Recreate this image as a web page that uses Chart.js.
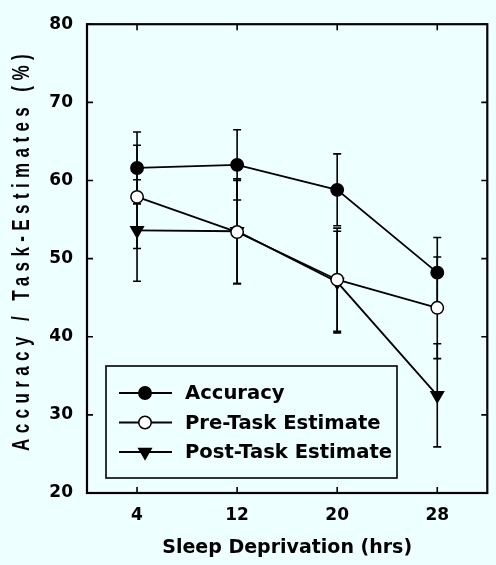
<!DOCTYPE html>
<html>
<head>
<meta charset="utf-8">
<script src="https://cdn.jsdelivr.net/npm/chart.js@4.4.0/dist/chart.umd.min.js"></script>
<style>
  html, body { margin: 0; padding: 0; background: #eeffff; }
  #wrap { width: 496px; height: 565px; }
</style>
</head>
<body>
<div id="wrap"><canvas id="chart" width="496" height="565"></canvas></div>
<script>
// hours of sleep deprivation
const hours = [4, 12, 20, 28];
const xTicks = [4, 12, 20, 28];

// means and error bar half-lengths
const accuracy = [61.6, 62.0, 58.8, 48.2];
const accuracyErr = [4.6, 4.5, 4.6, 4.5];
const preTask = [57.9, 53.4, 47.3, 43.7];
const preTaskErr = [6.6, 6.6, 6.6, 6.5];
const postTask = [53.6, 53.5, 47.0, 32.5];
const postTaskErr = [6.5, 6.7, 6.5, 6.6];

const seriesNames = ['Accuracy', 'Pre-Task Estimate', 'Post-Task Estimate'];
const yTitle = 'Accuracy / Task-Estimates (%)';
const xTitle = 'Sleep Deprivation (hrs)';

const BG = '#eeffff';
const INK = '#000000';

const toPoints = (vals) => hours.map((h, i) => ({ x: h, y: vals[i] }));

// error bars, drawn under the markers
const errorBars = {
    id: 'errorBars',
    beforeDatasetsDraw(chart) {
        const { ctx, scales: { x, y } } = chart;
        ctx.save();
        ctx.strokeStyle = INK;
        ctx.lineWidth = 1.6;
        chart.data.datasets.forEach((ds) => {
            ds.data.forEach((p, i) => {
                const px = x.getPixelForValue(p.x);
                const top = y.getPixelForValue(p.y + ds.errors[i]);
                const bot = y.getPixelForValue(p.y - ds.errors[i]);
                ctx.beginPath();
                ctx.moveTo(px, top);
                ctx.lineTo(px, bot);
                ctx.moveTo(px - 4, top);
                ctx.lineTo(px + 4, top);
                ctx.moveTo(px - 4, bot);
                ctx.lineTo(px + 4, bot);
                ctx.stroke();
            });
        });
        ctx.restore();
    }
};

// draws a marker like the dataset's point style
function drawMarker(ctx, ds, cx, cy) {
    ctx.save();
    ctx.fillStyle = ds.pointBackgroundColor;
    ctx.strokeStyle = INK;
    ctx.lineWidth = ds.pointBorderWidth;
    ctx.beginPath();
    if (ds.pointStyle === 'triangle') {
        const r = ds.pointRadius;
        ctx.moveTo(cx, cy + r);
        ctx.lineTo(cx - r * Math.sqrt(3) / 2, cy - r / 2);
        ctx.lineTo(cx + r * Math.sqrt(3) / 2, cy - r / 2);
        ctx.closePath();
    } else {
        ctx.arc(cx, cy, ds.pointRadius, 0, Math.PI * 2);
    }
    ctx.fill();
    ctx.stroke();
    ctx.restore();
}

// frame, inward ticks, boxed legend and the spaced-out y title
const decorations = {
    id: 'decorations',
    afterDraw(chart) {
        const { ctx, chartArea: a, scales: { x, y } } = chart;
        ctx.save();
        ctx.strokeStyle = INK;

        ctx.lineWidth = 1.6;
        ctx.beginPath();
        x.ticks.forEach((t) => {
            const px = x.getPixelForValue(t.value);
            ctx.moveTo(px, a.bottom);
            ctx.lineTo(px, a.bottom - 6);
            ctx.moveTo(px, a.top);
            ctx.lineTo(px, a.top + 6);
        });
        y.ticks.forEach((t) => {
            const py = y.getPixelForValue(t.value);
            ctx.moveTo(a.left, py);
            ctx.lineTo(a.left + 6, py);
            ctx.moveTo(a.right, py);
            ctx.lineTo(a.right - 6, py);
        });
        ctx.stroke();

        ctx.lineWidth = 2.2;
        ctx.strokeRect(a.left, a.top, a.right - a.left, a.bottom - a.top);

        // legend box
        const bx = a.left + 19, by = a.bottom - 127, bw = 291, bh = 112;
        ctx.fillStyle = BG;
        ctx.fillRect(bx, by, bw, bh);
        ctx.lineWidth = 1.6;
        ctx.strokeRect(bx, by, bw, bh);
        ctx.font = 'bold 19.6px "DejaVu Sans"';
        ctx.textBaseline = 'middle';
        ctx.textAlign = 'left';
        chart.data.datasets.forEach((ds, i) => {
            const ry = by + 27 + i * 29.5;
            ctx.strokeStyle = INK;
            ctx.lineWidth = 1.8;
            ctx.beginPath();
            ctx.moveTo(bx + 13, ry);
            ctx.lineTo(bx + 66, ry);
            ctx.stroke();
            drawMarker(ctx, ds, bx + 39, ry);
            ctx.fillStyle = INK;
            ctx.fillText(ds.label, bx + 79, ry + 1);
        });

        // rotated y title, letter-spaced like the original
        ctx.translate(22.5, 253);
        ctx.rotate(-Math.PI / 2);
        ctx.scale(1, 1.4);
        ctx.font = 'bold 17px "Liberation Sans"';
        ctx.letterSpacing = '5.4px';
        ctx.textAlign = 'center';
        ctx.textBaseline = 'middle';
        ctx.fillStyle = INK;
        ctx.fillText(yTitle, 3, 0);
        ctx.restore();
    }
};

const bgFill = {
    id: 'bgFill',
    beforeDraw(chart) {
        const { ctx } = chart;
        ctx.save();
        ctx.fillStyle = BG;
        ctx.fillRect(0, 0, chart.width, chart.height);
        ctx.restore();
    }
};

const makeSet = (label, vals, errs, style, fill, radius, rot) => ({
    label,
    data: toPoints(vals),
    errors: errs,
    borderColor: INK,
    borderWidth: 1.8,
    tension: 0,
    pointStyle: style,
    pointRadius: radius,
    pointRotation: rot,
    pointBackgroundColor: fill,
    pointBorderColor: INK,
    pointBorderWidth: 1.5,
    clip: false,
});

new Chart(document.getElementById('chart'), {
    type: 'line',
    data: {
        datasets: [
            makeSet(seriesNames[0], accuracy, accuracyErr, 'circle', INK, 6.2, 0),
            makeSet(seriesNames[1], preTask, preTaskErr, 'circle', '#ffffff', 6.2, 0),
            makeSet(seriesNames[2], postTask, postTaskErr, 'triangle', INK, 7.2, 180),
        ],
    },
    options: {
        responsive: false,
        animation: false,
        layout: { padding: { top: 14, right: 2, left: 0, bottom: 0 } },
        plugins: {
            legend: { display: false },
            tooltip: { enabled: false },
        },
        scales: {
            x: {
                type: 'linear',
                min: 0,
                max: 32,
                afterBuildTicks: (s) => { s.ticks = xTicks.map((v) => ({ value: v })); },
                afterFit: (s) => { s.height = 72; },
                grid: { display: false, drawTicks: false },
                border: { display: false },
                ticks: {
                    color: INK,
                    padding: 12,
                    font: { family: 'DejaVu Sans', weight: 'bold', size: 17 },
                },
                title: {
                    display: true,
                    text: xTitle,
                    color: INK,
                    padding: { top: 0, bottom: 6 },
                    font: { family: 'DejaVu Sans', weight: 'bold', size: 19 },
                },
            },
            y: {
                min: 20,
                max: 80,
                afterFit: (s) => { s.width = 87; },
                grid: { display: false, drawTicks: false },
                border: { display: false },
                ticks: {
                    stepSize: 10,
                    color: INK,
                    padding: 14,
                    font: { family: 'DejaVu Sans', weight: 'bold', size: 17 },
                },
            },
        },
    },
    plugins: [bgFill, errorBars, decorations],
});
</script>
</body>
</html>
